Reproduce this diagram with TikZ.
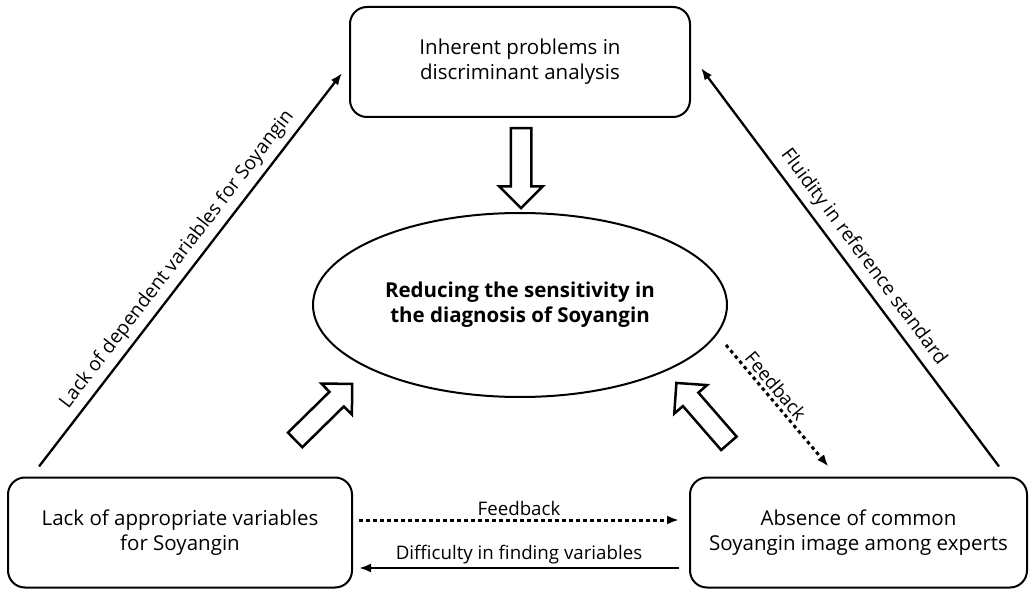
\documentclass[tikz,border=0pt]{standalone}
\usepackage{fontspec}
\setmainfont{Open Sans}
\usepackage{tikz}
\usetikzlibrary{positioning}
\usetikzlibrary{calc,arrows.meta}
\usetikzlibrary{shapes.geometric,shapes.arrows}
\tikzset{basic/.style={draw,line width=2pt,align=center,inner sep=0pt}}
\tikzset{cause/.style={basic,rectangle,rounded corners=17pt,minimum height=110pt}}
\tikzset{blockarrow/.style={draw,line width=2.5pt,single arrow,inner xsep=0pt,inner ysep=9pt,
    minimum height=80pt,minimum width=41pt,single arrow head extend=11.5pt}}

\begin{document}
\begin{tikzpicture}[
    x=1pt, y=-1pt,
    font=\fontsize{20.5}{25}\selectfont,
    >={Latex[length=12pt,width=9pt]}
  ]

  % Edge styles
  \tikzset{
    link/.style={->, line width=2.3pt},
    fback/.style={->, line width=3pt, dash pattern=on 3.5pt off 3.5pt},
    lbl/.style={font=\fontsize{18.7}{21}\selectfont, inner sep=3pt},
    slbl/.style={lbl, font=\fontsize{19.3}{21}\selectfont, inner sep=6pt}
  }

  \useasboundingbox (0,0) rectangle (1029,591);

  % Causes
  \node (inh) [cause, minimum width=340pt] at (520,62) {Inherent problems in\\discriminant analysis};
  \node (lack) [cause, minimum width=344pt] at (180,532.5) {Lack of appropriate variables\\for Soyangin};
  \node (absn) [cause, minimum width=337pt] at (858.5,532.5) {Absence of common\\Soyangin image among experts};

  % Central effect
  \node (goal) [basic, ellipse, minimum width=414pt, minimum height=184pt] at (520,305)
    {\bfseries Reducing the sensitivity in\\\bfseries the diagnosis of Soyangin};

  % Block arrows into the effect
  \node (downarr) [blockarrow, rotate=-90] at (521,163) {};
  \node (leftarr) [blockarrow, rotate=44.5] at (320,415.5) {};
  \node (rightarr) [blockarrow, rotate=131] at (706,417) {};

  % Sides of the triangle
  \draw[link] ($(lack.north west)+(32,-10)$) -- ($(inh.west)+(-7,11)$)
    node[midway, above, sloped, slbl] {Lack of dependent variables for Soyangin};
  \draw[link] ($(absn.north east)+(-29,-10)$) -- ($(inh.east)+(10,6)$)
    node[midway, above, sloped, slbl] {Fluidity in reference standard};

  % Feedback loops
  \draw[fback] ($(goal.east)+(-2,40)$) -- ($(absn.north)+(-30,-10)$)
    node[pos=0.4, above, sloped, lbl] {Feedback};
  \draw[fback] ($(lack.east)+(6,-12.5)$) -- ($(absn.west)+(-10,-12.5)$)
    node[midway, above, lbl] {Feedback};
  \draw[link] ($(absn.west)+(-10,35.5)$) -- ($(lack.east)+(6,35.5)$)
    node[midway, above, lbl] {Difficulty in finding variables};

\end{tikzpicture}
\end{document}
